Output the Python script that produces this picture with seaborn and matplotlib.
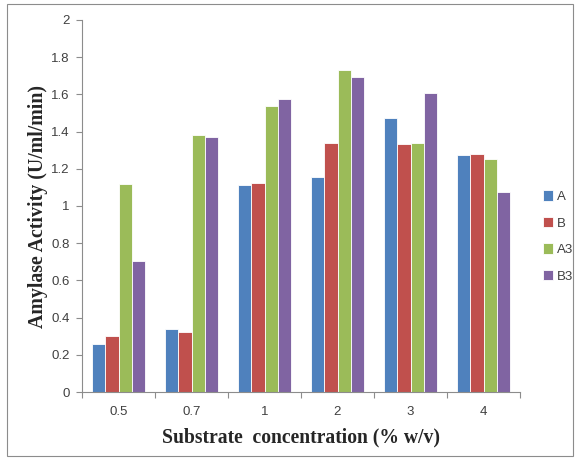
import matplotlib
matplotlib.use("Agg")
import matplotlib.pyplot as plt
from matplotlib.patches import Rectangle
import seaborn as sns
import pandas as pd

# Amylase activity at each substrate concentration for four strains
concentrations = ["0.5", "0.7", "1", "2", "3", "4"]
series_names = ["A", "B", "A3", "B3"]
activity_A = [0.26, 0.34, 1.115, 1.155, 1.475, 1.275]
activity_B = [0.30, 0.32, 1.125, 1.34, 1.335, 1.28]
activity_A3 = [1.12, 1.38, 1.535, 1.73, 1.34, 1.255]
activity_B3 = [0.705, 1.37, 1.575, 1.695, 1.605, 1.075]
palette = ["#4F81BD", "#C0504D", "#9BBB59", "#8064A2"]

rows = []
for name, vals in zip(series_names, [activity_A, activity_B, activity_A3, activity_B3]):
    for c, v in zip(concentrations, vals):
        rows.append({"conc": c, "series": name, "activity": v})
df = pd.DataFrame(rows)

sns.set_theme(style="white")
plt.rcParams["font.family"] = ["Liberation Sans", "DejaVu Sans"]

fig = plt.figure(figsize=(5.78, 4.61), dpi=100)
ax = fig.add_axes([82 / 578, 69 / 461, 438 / 578, 372 / 461])

sns.barplot(data=df, x="conc", y="activity", hue="series", order=concentrations,
            hue_order=series_names, palette=palette, width=0.72, saturation=1,
            edgecolor="white", linewidth=0.6, ax=ax)

ax.set_xlim(-0.5, len(concentrations) - 0.5)
ax.set_ylim(0, 2)
ax.set_yticks([i / 5 for i in range(11)])
ax.set_yticklabels([f"{i / 5:g}" for i in range(11)], fontsize=9.5, color="#404040")
ax.set_xticks(range(len(concentrations)))
ax.set_xticklabels(concentrations, fontsize=9.5, color="#404040")
ax.set_xticks([i - 0.5 for i in range(len(concentrations) + 1)], minor=True)
ax.tick_params(axis="x", which="major", length=0, pad=10)
ax.tick_params(axis="x", which="minor", length=4, width=0.8, color="#8c8c8c", direction="out", bottom=True)
ax.tick_params(axis="y", length=4, width=0.8, color="#8c8c8c", direction="out", left=True, pad=5)

for side in ["top", "right"]:
    ax.spines[side].set_visible(False)
for side in ["left", "bottom"]:
    ax.spines[side].set_color("#8c8c8c")
    ax.spines[side].set_linewidth(0.8)

ax.set_xlabel("Substrate  concentration (% w/v)", fontsize=14.1, fontweight="bold",
              family="Liberation Serif", labelpad=7)
ax.set_ylabel("Amylase Activity (U/ml/min)", fontsize=14.3, fontweight="bold",
              family="Liberation Serif", labelpad=2.5)

leg = ax.legend(loc="center left", bbox_to_anchor=(1.025, 0.418), frameon=False,
                fontsize=9.5, handlelength=0.8, handleheight=0.8, handletextpad=0.3,
                labelspacing=1.05)
for t in leg.get_texts():
    t.set_color("#404040")

# Chart area frame
fig.patches.append(Rectangle((7 / 578, 5 / 461), 566 / 578, 452 / 461, transform=fig.transFigure,
                             fill=False, edgecolor="#8c8c8c", linewidth=0.8))

fig.savefig("out.png", dpi=100, facecolor="white")
